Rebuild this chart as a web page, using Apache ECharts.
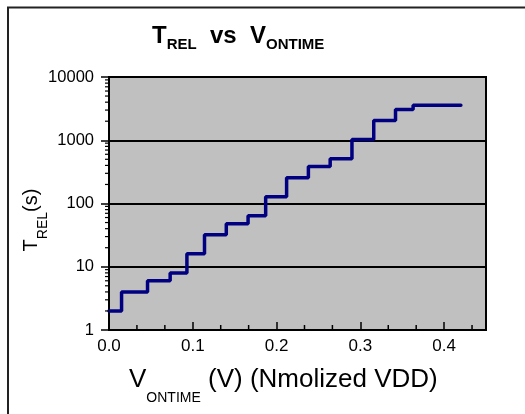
<!DOCTYPE html>
<html>
<head>
<meta charset="utf-8">
<script src="https://cdn.jsdelivr.net/npm/echarts@6/dist/echarts.min.js"></script>
<style>
  html, body { margin: 0; padding: 0; background: #fff; }
  #main { width: 525px; height: 414px; }
</style>
</head>
<body>
<div id="main"></div>
<script>
// step points: x where T_REL jumps, value held until next x
var vOntime = [0, 0.015, 0.046, 0.073, 0.093, 0.114, 0.140, 0.166, 0.187, 0.212, 0.238, 0.264, 0.290, 0.316, 0.342, 0.363, 0.420];
var tRel = [2, 4, 6, 8, 16, 32, 48, 64, 128, 256, 384, 512, 1024, 2048, 3072, 3584, 3584];

var xTickLabels = ['0.0', '0.1', '0.2', '0.3', '0.4'];
var yTickLabels = ['1', '10', '100', '1000', '10000'];

// minor tick decoration (log spaced on y, thirds on x)
var yMinor = [];
for (var d = 1; d < 10000; d *= 10) {
  for (var m = 2; m < 10; m++) yMinor.push(m * d);
}
var xMinor = [];
for (var k = 1; k < 14; k++) {
  if (k % 3 != 0) xMinor.push(k / 30);
}

var tickData = [];
yMinor.forEach(function (v) { tickData.push([0, v, 0]); });
xMinor.forEach(function (v) { tickData.push([v, 1, 1]); });

var font = 'Liberation Sans, Arial, sans-serif';

var myChart = echarts.init(document.getElementById('main'), null, { renderer: 'canvas' });

var option = {
  animation: false,
  backgroundColor: '#fff',
  grid: {
    left: 109, right: 39, top: 77, bottom: 84,
    show: true,
    backgroundColor: '#c0c0c0',
    borderColor: '#000',
    borderWidth: 2
  },
  xAxis: {
    type: 'value',
    min: 0,
    max: 0.45,
    interval: 0.1,
    axisLine: { onZero: false, lineStyle: { color: '#000', width: 2 } },
    axisTick: { inside: true, length: 8, lineStyle: { color: '#000', width: 1.5 } },
    splitLine: { show: false },
    axisLabel: {
      margin: 8,
      color: '#000',
      fontFamily: font,
      fontSize: 17,
      showMaxLabel: false,
      formatter: function (v) {
        var i = Math.round(v * 10);
        return xTickLabels[i] || '';
      }
    }
  },
  yAxis: {
    type: 'log',
    logBase: 10,
    min: 1,
    max: 10000,
    axisLine: { lineStyle: { color: '#000', width: 2 } },
    axisTick: { inside: false, length: 8, lineStyle: { color: '#000', width: 1.5 } },
    splitLine: { show: true, lineStyle: { color: '#000', width: 2 } },
    axisLabel: {
      margin: 15,
      color: '#000',
      fontFamily: font,
      fontSize: 16.5,
      formatter: function (v) {
        var i = Math.round(Math.log10(v));
        return yTickLabels[i] || '';
      }
    }
  },
  series: [
    {
      type: 'line',
      step: 'end',
      data: vOntime.map(function (x, i) { return [x, tRel[i]]; }),
      symbol: 'none',
      lineStyle: { color: '#000080', width: 3.5, cap: 'round' },
      z: 3
    },
    {
      type: 'custom',
      clip: false,
      silent: true,
      z: 4,
      data: tickData,
      renderItem: function (params, api) {
        var p = api.coord([api.value(0), api.value(1)]);
        if (api.value(2) == 0) {
          return { type: 'line', shape: { x1: p[0] - 4, y1: p[1], x2: p[0], y2: p[1] },
            style: { stroke: '#000', lineWidth: 1.2 } };
        }
        return { type: 'line', shape: { x1: p[0], y1: p[1], x2: p[0], y2: p[1] - 5 },
          style: { stroke: '#000', lineWidth: 1.5 } };
      }
    }
  ],
  graphic: [
    {
      type: 'rect',
      shape: { x: 8, y: 7.5, width: 700, height: 600 },
      style: { fill: 'none', stroke: '#222', lineWidth: 2 },
      silent: true
    },
    {
      type: 'text',
      x: 152,
      y: 24,
      style: {
        text: '{t|T}{s|REL}{t|  vs  V}{s|ONTIME}',
        fill: '#000',
        rich: {
          t: { fontFamily: font, fontSize: 24, fontWeight: 'bold', lineHeight: 20, verticalAlign: 'top' },
          s: { fontFamily: font, fontSize: 15, fontWeight: 'bold', lineHeight: 28, verticalAlign: 'bottom' }
        }
      }
    },
    {
      type: 'text',
      x: 129,
      y: 367,
      style: {
        text: '{t|V}{s|ONTIME}{t| (V) (Nmolized VDD)}',
        fill: '#000',
        rich: {
          t: { fontFamily: font, fontSize: 26, lineHeight: 20, verticalAlign: 'top' },
          s: { fontFamily: font, fontSize: 14, lineHeight: 38, verticalAlign: 'bottom' }
        }
      }
    },
    {
      type: 'text',
      x: 21,
      y: 220,
      rotation: Math.PI / 2,
      style: {
        text: '{t|T}{s|REL}{t|(s)}',
        fill: '#000',
        align: 'center',
        verticalAlign: 'top',
        rich: {
          t: { fontFamily: font, fontSize: 20, lineHeight: 16, verticalAlign: 'top' },
          s: { fontFamily: font, fontSize: 14, lineHeight: 29, verticalAlign: 'bottom' }
        }
      }
    }
  ]
};

myChart.setOption(option);
window.addEventListener('resize', myChart.resize);
</script>
</body>
</html>
